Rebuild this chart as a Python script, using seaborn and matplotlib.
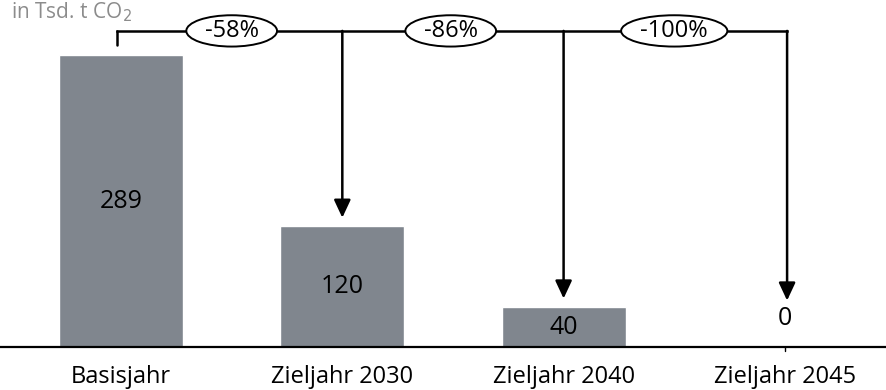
import matplotlib
matplotlib.use("Agg")
import matplotlib.pyplot as plt
import seaborn as sns
import pandas as pd
from matplotlib.patches import Ellipse

categories = ["Basisjahr", "Zieljahr 2030", "Zieljahr 2040", "Zieljahr 2045"]
values = [289, 120, 40, 0]
reductions = ["-58%", "-86%", "-100%"]
unit_label = "in Tsd. t CO$_2$"

sns.set_theme(style="white")
plt.rcParams["font.family"] = ["Open Sans", "DejaVu Sans"]

df = pd.DataFrame({"cat": categories, "val": values})

fig = plt.figure(figsize=(8.86, 3.90), dpi=100)
ax = fig.add_axes([0, 43 / 390, 1, 347 / 390])
sns.barplot(data=df, x="cat", y="val", color="#80868e", saturation=1, width=0.56, ax=ax)

ax.set_xlim(-0.547, 3.457)
ax.set_ylim(0, 343.6)
for s in ["top", "left", "right"]:
    ax.spines[s].set_visible(False)
ax.spines["bottom"].set_linewidth(1.6)
ax.spines["bottom"].set_color("black")
ax.set_xlabel("")
ax.set_ylabel("")
ax.set_yticks([])
ax.tick_params(axis="x", length=0, pad=13, labelsize=17, labelcolor="black")

# tick for zero bar
ax.plot([3, 3], [0, -4], color="black", lw=1, clip_on=False)

# value labels
for i, v in enumerate(values):
    if v == 0:
        y = 28
    elif v < 60:
        y = v / 2 - 1
    else:
        y = v / 2
    ax.text(i, y, str(v), ha="center", va="center", fontsize=18, color="black")

# bracket
ybr = 313
ax.plot([-0.02, -0.02], [299, ybr], color="black", lw=1.8)
ax.plot([-0.02, 3.01], [ybr, ybr], color="black", lw=1.8, solid_capstyle="projecting")
tips = [128, 48, 46]
for i, tip in zip(range(1, 4), tips):
    xi = i if i < 3 else 3.01
    ax.annotate("", xy=(xi, tip), xytext=(xi, ybr),
                arrowprops=dict(arrowstyle="-|>,head_length=0.9,head_width=0.42",
                                color="black", lw=1.8, shrinkA=0, shrinkB=0))

# reduction ellipses
ell_x = [0.5, 1.49, 2.5]
for xc, lab in zip(ell_x, reductions):
    w = 0.41 if len(lab) < 5 else 0.48
    e = Ellipse((xc, ybr), width=w, height=31, facecolor="white", edgecolor="black", lw=1.4, zorder=5)
    ax.add_patch(e)
    ax.text(xc, ybr, lab, ha="center", va="center", fontsize=17, color="black", zorder=6)

fig.text(0.012, 0.998, unit_label, ha="left", va="top", fontsize=15, color="#8c8c8c")

fig.savefig("out.png", dpi=100)
